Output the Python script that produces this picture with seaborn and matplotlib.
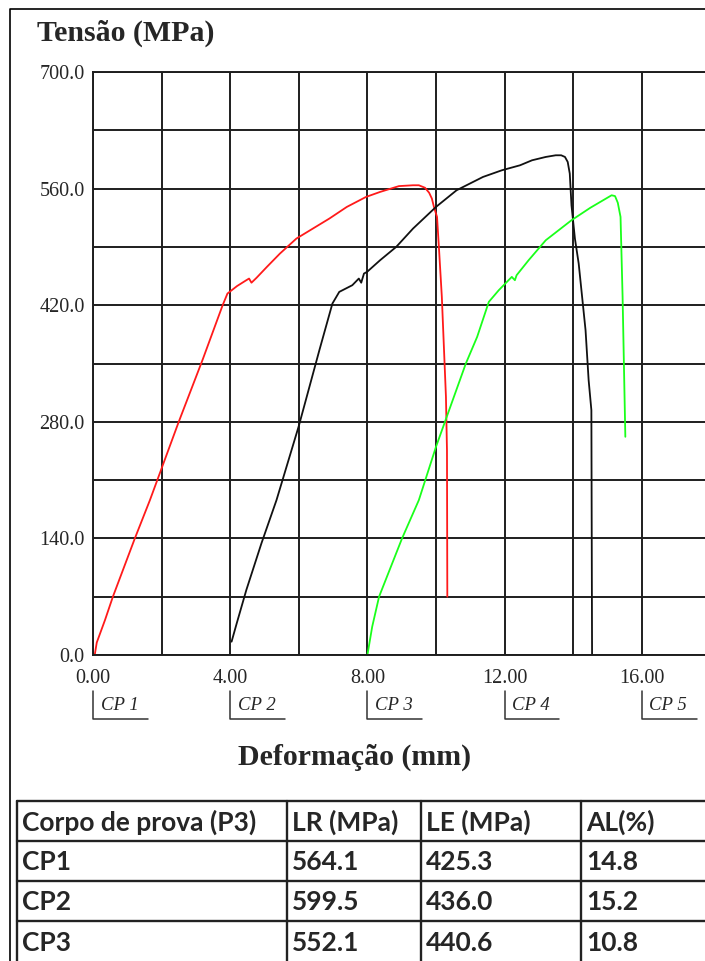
import matplotlib
matplotlib.use("Agg")
import matplotlib.pyplot as plt
import matplotlib.transforms as mtransforms
import seaborn as sns
import numpy as np
import pandas as pd

# --- data ---
cp1_def = [0.05, 0.11, 0.35, 0.58, 1.22, 1.66, 2.5, 3.2, 3.78, 3.92, 4.2, 4.47, 4.55, 4.62, 4.77,
           5.07, 5.45, 5.93, 6.41, 6.89, 7.4, 7.96, 8.37, 8.92, 9.33, 9.5, 9.68, 9.8, 9.88,
           9.94, 10.03, 10.09, 10.17, 10.29, 10.32, 10.33]
cp1_ten = [0, 15, 42, 70, 140, 186, 280, 355, 420, 434, 443, 450, 452, 447, 453,
           466, 482, 500, 512, 524, 538, 550, 556, 563, 564, 564, 561, 555, 548,
           538, 526, 486, 430, 310, 246, 70]

cp2_def = [4.04, 4.19, 4.47, 4.91, 5.35, 6.0, 6.6, 6.98, 7.18, 7.56, 7.75, 7.82, 7.9, 7.99,
           8.37, 8.84, 9.33, 10.0, 10.6, 11.37, 11.92, 12.45, 12.8, 13.2, 13.49, 13.65, 13.76,
           13.84, 13.9, 13.95, 14.05, 14.16, 14.36, 14.45, 14.53, 14.55]
cp2_ten = [16, 38, 78, 134, 186, 275, 366, 422, 436, 444, 452, 447, 458, 460,
           474, 490, 512, 538, 558, 574, 582, 588, 594, 598, 600, 600, 598,
           592, 578, 540, 500, 470, 390, 330, 294, 0]

cp3_def = [8.0, 8.14, 8.34, 9.01, 9.5, 10.0, 10.87, 11.2, 11.54, 11.83, 12.21, 12.3, 12.35,
           12.7, 13.2, 13.95, 14.5, 15.12, 15.22, 15.3, 15.38, 15.44, 15.52]
cp3_ten = [0, 34, 70, 140, 186, 250, 350, 382, 424, 438, 454, 450, 456,
           474, 498, 522, 537, 552, 551, 543, 526, 430, 262]

cp_names = ["CP 1", "CP 2", "CP 3", "CP 4", "CP 5"]
cp_marks = [0, 4, 8, 12, 16]

x_ticks = [0, 4, 8, 12, 16]
y_ticks = [0, 140, 280, 420, 560, 700]

table_header = ["Corpo de prova (P3)", "LR (MPa)", "LE (MPa)", "AL(%)"]
table_rows = [["CP1", "564.1", "425.3", "14.8"],
              ["CP2", "599.5", "436.0", "15.2"],
              ["CP3", "552.1", "440.6", "10.8"]]

df = pd.concat([
    pd.DataFrame({"def": cp1_def, "ten": cp1_ten, "cp": "CP1"}),
    pd.DataFrame({"def": cp2_def, "ten": cp2_ten, "cp": "CP2"}),
    pd.DataFrame({"def": cp3_def, "ten": cp3_ten, "cp": "CP3"}),
], ignore_index=True)
palette = {"CP1": "#ff1a1a", "CP2": "#111111", "CP3": "#1aff1a"}

sns.set_theme(style="white")
plt.rcParams["font.family"] = ["Liberation Serif", "DejaVu Serif"]

W, H = 705, 961
fig = plt.figure(figsize=(W / 100, H / 100), dpi=100)

# overlay axes in pixel units for frame and table
over = fig.add_axes([0, 0, 1, 1], zorder=0)
over.set_xlim(0, W)
over.set_ylim(H, 0)
over.axis("off")

ax = fig.add_axes([93 / W, 1 - 655 / H, (W - 93 + 30) / W, 583 / H], zorder=1)
ax.patch.set_alpha(0)

sns.lineplot(data=df, x="def", y="ten", hue="cp", palette=palette, sort=False,
             estimator=None, legend=False, linewidth=1.3, ax=ax)

ax.set_xlim(0, (W - 93 + 30) / 34.3)
ax.set_ylim(0, 700)
ax.set_xticks(x_ticks)
ax.set_xticklabels([f"{v:.2f}" for v in x_ticks])
ax.set_xticks(np.arange(2, 19, 4), minor=True)
ax.set_yticks(y_ticks)
ax.set_yticklabels([f"{v:.1f}" for v in y_ticks])
ax.set_yticks(np.arange(70, 700, 140), minor=True)
ax.grid(True, which="both", color="#1e1e1e", linewidth=1.4)
ax.set_axisbelow(True)
ax.tick_params(which="both", length=0)
ax.tick_params(axis="x", pad=10, labelsize=14.5)
ax.tick_params(axis="y", pad=6, labelsize=14.5)
for s in ["left", "bottom", "top"]:
    ax.spines[s].set_color("#1e1e1e")
    ax.spines[s].set_linewidth(1.4)
ax.spines["right"].set_visible(False)
ax.set_xlabel("")
ax.set_ylabel("")

# CP bracket labels under the axis
trans = mtransforms.blended_transform_factory(ax.transData, fig.transFigure)
for name, xp in zip(cp_names, cp_marks):
    y_top, y_bot = 1 - 691 / H, 1 - 719 / H
    ax.plot([xp, xp, xp + 1.6], [y_top, y_bot, y_bot], color="#333333", lw=1.1,
            transform=trans, clip_on=False)
    ax.text(xp + 0.22, 1 - 706 / H, name, transform=trans, fontsize=13.5,
            fontstyle="italic", ha="left", va="center")

fig.text(37 / W, 1 - 33 / H, "Tensão (MPa)", fontsize=21.5, fontweight="bold",
         ha="left", va="center")
fig.text(355 / W, 1 - 757 / H, "Deformação (mm)", fontsize=21.5, fontweight="bold",
         ha="center", va="center")

# outer frame
over.plot([10, 10, W + 5], [H + 5, 9, 9], color="black", lw=1.2)

# table
col_edges = [17, 287, 421, 581, W + 5]
row_edges = [801, 841, 881, 921, H + 5]
for xe in col_edges:
    over.plot([xe, xe], [row_edges[0], row_edges[-1]], color="#222222", lw=1.7)
for ye in row_edges:
    over.plot([col_edges[0], col_edges[-1]], [ye, ye], color="#222222", lw=1.7)
for r, row in enumerate([table_header] + table_rows):
    yc = (row_edges[r] + row_edges[r + 1]) / 2 if r < 3 else 942
    for c, val in enumerate(row):
        over.text(col_edges[c] + 5, yc + 1, val, fontsize=19, fontweight="bold",
                  family=["Lato", "DejaVu Sans"], ha="left", va="center")

fig.savefig("out.png", dpi=100)
